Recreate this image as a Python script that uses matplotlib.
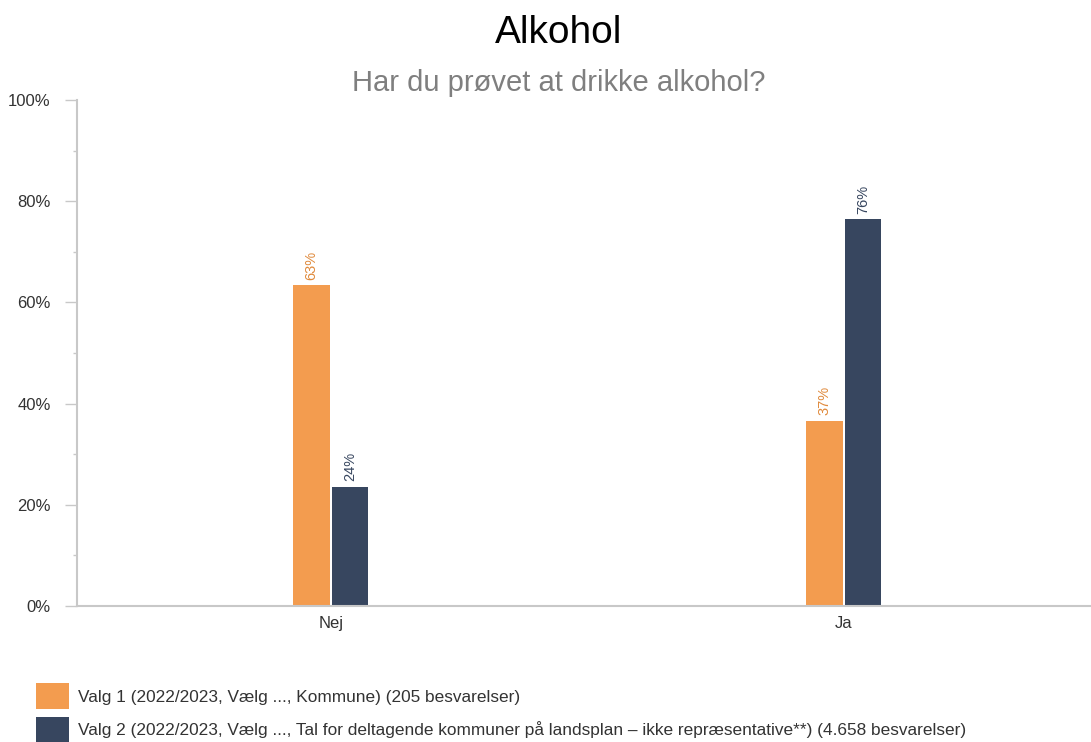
import numpy as np
import matplotlib.pyplot as plt
from matplotlib.patches import Patch
from matplotlib.ticker import MultipleLocator, PercentFormatter

plt.rcParams['font.family'] = ['Liberation Sans', 'DejaVu Sans']

categories = ["Nej", "Ja"]
valg1 = [63.4, 36.6]
valg2 = [23.6, 76.4]
series_names = [
    "Valg 1 (2022/2023, Vælg ..., Kommune) (205 besvarelser)",
    "Valg 2 (2022/2023, Vælg ..., Tal for deltagende kommuner på landsplan – ikke repræsentative**) (4.658 besvarelser)",
]
bar_colors = ["#F39C4F", "#37465F"]
label_colors = ["#E08A3C", "#37465F"]

fig = plt.figure(figsize=(10.91, 7.42), dpi=100)
ax = fig.add_axes([0.0706, 0.1833, 0.9285, 0.6819])

x = np.arange(len(categories))
w = 0.071
offsets = [-0.0375, 0.0375]
for vals, off, col, lcol in zip([valg1, valg2], offsets, bar_colors, label_colors):
    ax.bar(x + off, vals, width=w, color=col)
    for xi, v in zip(x + off, vals):
        ax.annotate(f"{v:.0f}%", (xi, v), xytext=(0, 4), textcoords="offset points",
                    rotation=90, ha="center", va="bottom", fontsize=10.5, color=lcol)

ax.set_xlim(-0.495, 1.48)
ax.set_ylim(0, 100)
ax.set_xticks(x)
ax.set_xticklabels(categories, fontsize=12, color="#333333")
ax.tick_params(axis="x", length=0, pad=7)
ax.yaxis.set_major_locator(MultipleLocator(20))
ax.yaxis.set_minor_locator(MultipleLocator(10))
ax.yaxis.set_major_formatter(PercentFormatter(decimals=0))
ax.tick_params(axis="y", which="major", length=9, width=1, color="#c8c8c8",
               labelsize=12, labelcolor="#333333", pad=10)
ax.tick_params(axis="y", which="minor", length=3, width=1, color="#c8c8c8")

for side in ["top", "right"]:
    ax.spines[side].set_visible(False)
for side in ["left", "bottom"]:
    ax.spines[side].set_color("#c8c8c8")
    ax.spines[side].set_linewidth(1.5)

fig.text(0.512, 0.955, "Alkohol", ha="center", va="center", fontsize=28, color="black")
fig.text(0.512, 0.888, "Har du prøvet at drikke alkohol?", ha="center", va="center",
         fontsize=21, color="#7f7f7f")

handles = [Patch(facecolor=c) for c in bar_colors]
fig.legend(handles, series_names, loc="lower left", bbox_to_anchor=(0.033, 0.0),
           frameon=False, fontsize=12.4, handlelength=1.9, handleheight=1.9,
           handletextpad=0.55, labelspacing=0.45, borderpad=0, borderaxespad=0,
           labelcolor="#333333")

fig.savefig("out.png", dpi=100)
